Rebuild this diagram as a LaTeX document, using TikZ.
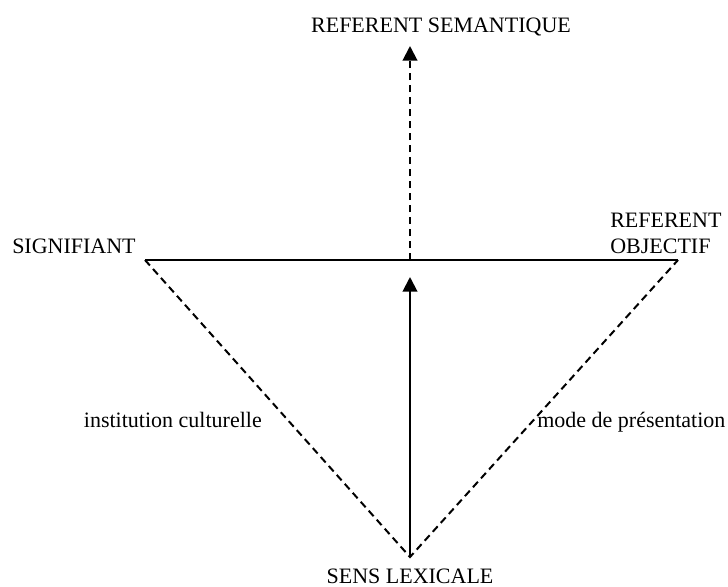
\documentclass[tikz,border=0pt]{standalone}
\usepackage{fontspec}
\setmainfont{Liberation Serif}
\usetikzlibrary{arrows.meta}

\begin{document}
\begin{tikzpicture}[x=0.75pt,y=-0.75pt,
		lbl/.style={inner sep=0pt,font=\fontsize{16.5}{19.5}\selectfont},
		edge/.style={line width=1.5pt},
		dedge/.style={line width=1.5pt,dash pattern=on 5.5pt off 3.5pt},
		tip/.style={-{Triangle[length=11pt,width=11pt]}}]
		\useasboundingbox (0,0) rectangle (728,586);
		\coordinate (sig) at (145,260);
		\coordinate (obj) at (678,260);
		\coordinate (lex) at (410,557);
		\coordinate (mid) at (410,260);
		\coordinate (midtip) at (410,277);
		\coordinate (semtip) at (410,46);
		\draw[edge] (sig) -- (obj);
		\draw[dedge] (sig) -- (lex) -- (obj);
		\draw[edge,tip] (lex) -- (midtip);
		\draw[dedge,tip] (mid) -- (semtip);
		\node[lbl,anchor=base] (sem) at (441,32) {REFERENT SEMANTIQUE};
		\node[lbl,anchor=base west] (signif) at (12,253) {SIGNIFIANT};
		\node[lbl,anchor=base west,align=left] (refobj) at (610,253) {REFERENT\\OBJECTIF};
		\node[lbl,anchor=base east] (inst) at (262,427) {institution culturelle};
		\node[lbl,anchor=base west] (mode) at (537,427) {mode de présentation};
		\node[lbl,anchor=base] (sens) at (410,583) {SENS LEXICALE};
	\end{tikzpicture}
\end{document}
